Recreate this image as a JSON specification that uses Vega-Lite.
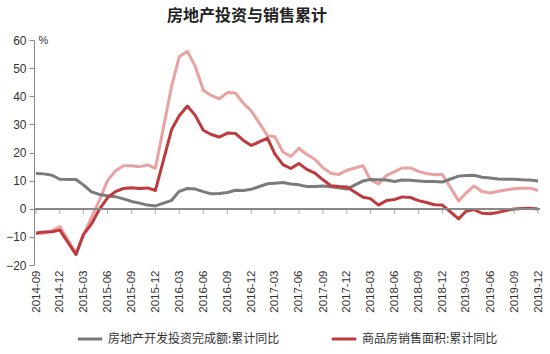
{
  "$schema": "https://vega.github.io/schema/vega-lite/v6.json",
  "width": 506,
  "height": 225,
  "padding": {"left": 5, "top": 8, "right": 6, "bottom": 2},
  "background": "white",
  "title": {"text": "房地产投资与销售累计", "font": "Noto Sans CJK SC", "fontSize": 16, "fontWeight": "bold", "color": "#222222", "dx": -40, "offset": 10},
  "config": {"view": {"stroke": null}, "legend": {"layout": {"bottom": {"anchor": "middle"}}}},
  "data": {"values": [
    {"m": "2014-09", "inv": 12.5, "area": -8.6, "val": -8.9},
    {"m": "2014-10", "inv": 12.4, "area": -8.3, "val": -8.6},
    {"m": "2014-11", "inv": 11.9, "area": -8.2, "val": -7.8},
    {"m": "2014-12", "inv": 10.5, "area": -7.6, "val": -6.3},
    {"m": "2015-02", "inv": 10.4, "area": -16.3, "val": -15.8},
    {"m": "2015-03", "inv": 8.5, "area": -9.2, "val": -9.3},
    {"m": "2015-04", "inv": 6.0, "area": -5.4, "val": -3.1},
    {"m": "2015-05", "inv": 5.1, "area": -0.2, "val": 3.0},
    {"m": "2015-06", "inv": 4.6, "area": 3.9, "val": 10.0},
    {"m": "2015-07", "inv": 4.3, "area": 6.1, "val": 13.4},
    {"m": "2015-08", "inv": 3.5, "area": 7.2, "val": 15.3},
    {"m": "2015-09", "inv": 2.6, "area": 7.5, "val": 15.3},
    {"m": "2015-10", "inv": 2.0, "area": 7.2, "val": 14.9},
    {"m": "2015-11", "inv": 1.3, "area": 7.4, "val": 15.6},
    {"m": "2015-12", "inv": 1.0, "area": 6.5, "val": 14.4},
    {"m": "2016-02", "inv": 3.0, "area": 28.2, "val": 43.6},
    {"m": "2016-03", "inv": 6.2, "area": 33.1, "val": 54.1},
    {"m": "2016-04", "inv": 7.2, "area": 36.5, "val": 55.9},
    {"m": "2016-05", "inv": 7.0, "area": 33.2, "val": 50.7},
    {"m": "2016-06", "inv": 6.1, "area": 27.9, "val": 42.1},
    {"m": "2016-07", "inv": 5.3, "area": 26.4, "val": 40.3},
    {"m": "2016-08", "inv": 5.4, "area": 25.5, "val": 39.1},
    {"m": "2016-09", "inv": 5.8, "area": 26.9, "val": 41.3},
    {"m": "2016-10", "inv": 6.6, "area": 26.8, "val": 41.2},
    {"m": "2016-11", "inv": 6.5, "area": 24.3, "val": 37.5},
    {"m": "2016-12", "inv": 6.9, "area": 22.5, "val": 34.8},
    {"m": "2017-02", "inv": 8.9, "area": 25.1, "val": 26.0},
    {"m": "2017-03", "inv": 9.1, "area": 19.5, "val": 25.6},
    {"m": "2017-04", "inv": 9.3, "area": 15.7, "val": 20.2},
    {"m": "2017-05", "inv": 8.8, "area": 14.3, "val": 18.6},
    {"m": "2017-06", "inv": 8.5, "area": 16.1, "val": 21.5},
    {"m": "2017-07", "inv": 7.9, "area": 14.0, "val": 19.3},
    {"m": "2017-08", "inv": 7.9, "area": 12.7, "val": 17.6},
    {"m": "2017-09", "inv": 8.1, "area": 10.3, "val": 14.6},
    {"m": "2017-10", "inv": 7.8, "area": 8.2, "val": 12.6},
    {"m": "2017-11", "inv": 7.5, "area": 7.9, "val": 12.2},
    {"m": "2017-12", "inv": 7.0, "area": 7.7, "val": 13.7},
    {"m": "2018-02", "inv": 9.9, "area": 4.1, "val": 15.3},
    {"m": "2018-03", "inv": 10.4, "area": 3.6, "val": 10.4},
    {"m": "2018-04", "inv": 10.3, "area": 1.3, "val": 8.8},
    {"m": "2018-05", "inv": 10.2, "area": 2.9, "val": 11.8},
    {"m": "2018-06", "inv": 9.7, "area": 3.3, "val": 13.2},
    {"m": "2018-07", "inv": 10.2, "area": 4.2, "val": 14.5},
    {"m": "2018-08", "inv": 10.1, "area": 4.0, "val": 14.5},
    {"m": "2018-09", "inv": 9.9, "area": 2.9, "val": 13.3},
    {"m": "2018-10", "inv": 9.7, "area": 2.2, "val": 12.5},
    {"m": "2018-11", "inv": 9.7, "area": 1.4, "val": 12.1},
    {"m": "2018-12", "inv": 9.5, "area": 1.3, "val": 12.2},
    {"m": "2019-02", "inv": 11.6, "area": -3.6, "val": 2.8},
    {"m": "2019-03", "inv": 11.8, "area": -0.9, "val": 5.6},
    {"m": "2019-04", "inv": 11.9, "area": -0.3, "val": 8.1},
    {"m": "2019-05", "inv": 11.2, "area": -1.6, "val": 6.1},
    {"m": "2019-06", "inv": 10.9, "area": -1.8, "val": 5.6},
    {"m": "2019-07", "inv": 10.6, "area": -1.3, "val": 6.2},
    {"m": "2019-08", "inv": 10.5, "area": -0.6, "val": 6.7},
    {"m": "2019-09", "inv": 10.5, "area": -0.1, "val": 7.1},
    {"m": "2019-10", "inv": 10.3, "area": 0.1, "val": 7.3},
    {"m": "2019-11", "inv": 10.2, "area": 0.2, "val": 7.3},
    {"m": "2019-12", "inv": 9.9, "area": -0.1, "val": 6.5}
  ]},
  "resolve": {"axis": {"x": "independent"}},
  "layer": [
    {
      "transform": [{"fold": ["val", "inv", "area"], "as": ["series", "value"]}],
      "mark": {"type": "line", "strokeWidth": 3, "strokeJoin": "round"},
      "encoding": {
        "x": {"field": "m", "type": "temporal", "scale": {"type": "utc", "padding": 2},
          "axis": {"orient": "bottom", "title": null, "domain": false, "ticks": false, "grid": false,
            "format": "%Y-%m", "labelAngle": -90, "labelFont": "Liberation Sans", "labelFontSize": 11.5, "labelColor": "#333333", "labelPadding": 5, "labelOverlap": false,
            "values": [
              {"year": 2014, "month": 9, "utc": true}, {"year": 2014, "month": 12, "utc": true},
              {"year": 2015, "month": 3, "utc": true}, {"year": 2015, "month": 6, "utc": true}, {"year": 2015, "month": 9, "utc": true}, {"year": 2015, "month": 12, "utc": true},
              {"year": 2016, "month": 3, "utc": true}, {"year": 2016, "month": 6, "utc": true}, {"year": 2016, "month": 9, "utc": true}, {"year": 2016, "month": 12, "utc": true},
              {"year": 2017, "month": 3, "utc": true}, {"year": 2017, "month": 6, "utc": true}, {"year": 2017, "month": 9, "utc": true}, {"year": 2017, "month": 12, "utc": true},
              {"year": 2018, "month": 3, "utc": true}, {"year": 2018, "month": 6, "utc": true}, {"year": 2018, "month": 9, "utc": true}, {"year": 2018, "month": 12, "utc": true},
              {"year": 2019, "month": 3, "utc": true}, {"year": 2019, "month": 6, "utc": true}, {"year": 2019, "month": 9, "utc": true}, {"year": 2019, "month": 12, "utc": true}
            ]}},
        "y": {"field": "value", "type": "quantitative",
          "scale": {"domain": [-20, 60], "nice": false, "zero": false},
          "axis": {"values": [-20, -10, 0, 10, 20, 30, 40, 50, 60], "labelOverlap": false, "grid": false, "title": "%", "titleAngle": 0, "titleX": 9, "titleY": 0,
            "titleAlign": "center", "titleBaseline": "middle", "titleFont": "Liberation Sans", "titleFontSize": 11, "titleFontWeight": "normal", "titleColor": "#333333",
            "labelFont": "Liberation Sans", "labelFontSize": 12, "labelColor": "#333333", "domainColor": "#888888", "tickColor": "#888888", "tickSize": 5, "labelPadding": 3}},
        "color": {"field": "series", "type": "nominal",
          "scale": {"domain": ["inv", "area", "val"], "range": ["#7b7b7b", "#bf3a3f", "#e8a2a2"]},
          "legend": {"orient": "bottom", "direction": "horizontal", "title": null, "values": ["inv", "area"],
            "labelExpr": "datum.value == 'inv' ? '房地产开发投资完成额:累计同比' : '商品房销售面积:累计同比'",
            "symbolType": "stroke", "symbolSize": 600, "symbolStrokeWidth": 3, "labelFont": "Noto Sans CJK SC", "labelFontSize": 12, "labelColor": "#333333", "labelLimit": 300,
            "columnPadding": 45, "offset": 12}}
      }
    },
    {
      "mark": {"type": "rule", "color": "#888888", "strokeWidth": 1},
      "encoding": {"y": {"datum": 0, "type": "quantitative",
        "axis": {"values": [-20, -10, 0, 10, 20, 30, 40, 50, 60], "labelOverlap": false, "grid": false, "title": "%", "titleAngle": 0, "titleX": 9, "titleY": 0,
            "titleAlign": "center", "titleBaseline": "middle", "titleFont": "Liberation Sans", "titleFontSize": 11, "titleFontWeight": "normal", "titleColor": "#333333",
            "labelFont": "Liberation Sans", "labelFontSize": 12, "labelColor": "#333333", "domainColor": "#888888", "tickColor": "#888888", "tickSize": 5, "labelPadding": 3}}}
    },
    {
      "transform": [{"filter": "utcmonth(toDate(datum.m)) % 3 == 2"}],
      "mark": {"type": "tick", "color": "#888888", "orient": "vertical", "size": 5, "thickness": 1, "yOffset": 2.5},
      "encoding": {
        "x": {"field": "m", "type": "temporal", "scale": {"type": "utc", "padding": 2},
          "axis": null},
        "y": {"datum": 0, "type": "quantitative",
          "axis": {"values": [-20, -10, 0, 10, 20, 30, 40, 50, 60], "labelOverlap": false, "grid": false, "title": "%", "titleAngle": 0, "titleX": 9, "titleY": 0,
            "titleAlign": "center", "titleBaseline": "middle", "titleFont": "Liberation Sans", "titleFontSize": 11, "titleFontWeight": "normal", "titleColor": "#333333",
            "labelFont": "Liberation Sans", "labelFontSize": 12, "labelColor": "#333333", "domainColor": "#888888", "tickColor": "#888888", "tickSize": 5, "labelPadding": 3}}
      }
    }
  ]
}
